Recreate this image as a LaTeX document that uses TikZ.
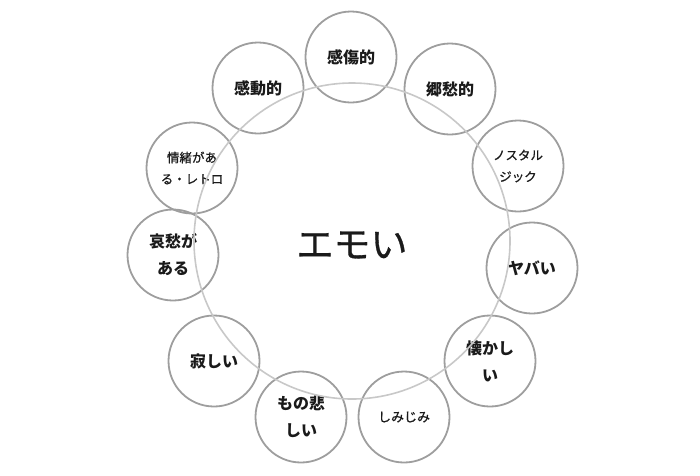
\documentclass[tikz,border=0pt]{standalone}
\usepackage{fontspec}
\setmainfont{Noto Sans CJK JP}
\newfontfamily\jpsemi[FakeBold=0.8]{Noto Sans CJK JP}
\definecolor{ringgray}{HTML}{9E9E9E}
\definecolor{biggray}{HTML}{C8C8C8}
\definecolor{txt}{HTML}{1A1A1A}
\begin{document}
\begin{tikzpicture}[x=1pt,y=-1pt,
  bubble/.style={circle, draw=ringgray, line width=1.8pt, minimum size=91pt, inner sep=0pt, align=center, text=txt},
  big/.style={font=\fontsize{16}{27}\selectfont\bfseries},
  small/.style={font=\jpsemi\fontsize{12.5}{21.5}\selectfont}]
\useasboundingbox (0,0) rectangle (700,475);
\node[bubble,big] (kansho) at (351,57) {感傷的};
\node[bubble,big] (kando) at (258,88) {感動的};
\node[bubble,big] (kyoshu) at (450,89) {郷愁的};
\node[bubble,small] (jocho) at (192,168) {情緒があ\\る・レトロ};
\node[bubble,small] (nosta) at (518,166) {ノスタル\\ジック};
\node[bubble,big] (aishu) at (173,255) {哀愁が\\ある};
\node[bubble,big] (yabai) at (532,268) {ヤバい};
\node[bubble,big] (sabi) at (214,361) {寂しい};
\node[bubble,big] (natsu) at (490,361) {懐かし\\い};
\node[bubble,big] (mono) at (301,417) {もの悲\\しい};
\node[bubble,small,font=\jpsemi\fontsize{13}{21.5}\selectfont] (shimi) at (404,417) {しみじみ};
\node[circle, draw=biggray, line width=1.6pt, minimum size=316pt, inner sep=0pt] (ring) at (352,241) {};
\node[font=\jpsemi\fontsize{37}{40}\selectfont, text=txt] (emo) at (352,245) {エモい};
\end{tikzpicture}
\end{document}
